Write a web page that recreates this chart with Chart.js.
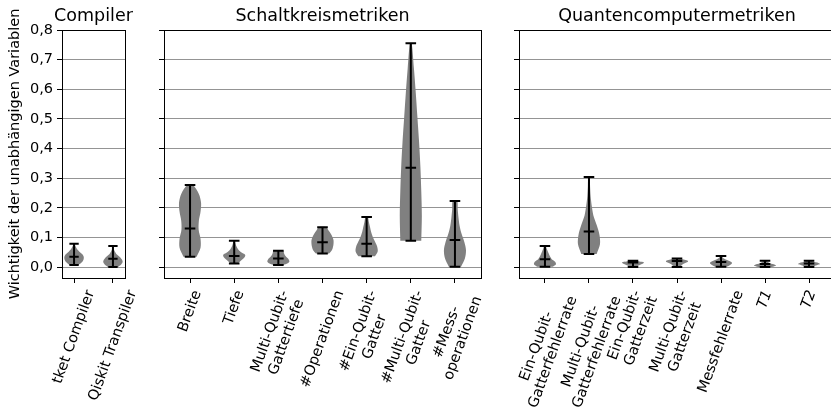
<!DOCTYPE html>
<html>
<head>
<meta charset="utf-8">
<script src="https://cdn.jsdelivr.net/npm/chart.js@4.4.1/dist/chart.umd.min.js"></script>
<style>
    html, body { margin: 0; padding: 0; background: #fff; overflow: hidden; }
    body { width: 831px; height: 414px; position: relative; }
    canvas { position: absolute; top: 0; }
</style>
</head>
<body>
<canvas id="compilerChart" width="160" height="414" style="left:0px"></canvas>
<canvas id="circuitChart" width="362" height="414" style="left:124px"></canvas>
<canvas id="qcChart" width="360" height="414" style="left:479px"></canvas>
<script>
// y axis ticks shared by all three panels
const yTicks = [0, 0.1, 0.2, 0.3, 0.4, 0.5, 0.6, 0.7, 0.8];

// Compiler
const compilerLabels = [['tket Compiler'], ['Qiskit Transpiler']];
const compilerMin = [0.007, 0.000];
const compilerMedian = [0.035, 0.028];
const compilerMax = [0.079, 0.071];
// relative violin width, from min (first) to max (last)
const compilerShape = [
    [0.45, 0.8, 0.97, 1.0, 0.85, 0.55, 0.3, 0.15, 0.05],
    [0.5, 0.85, 1.0, 0.9, 0.65, 0.35, 0.18, 0.08, 0.03]
];

// Schaltkreismetriken
const circuitLabels = [['Breite'], ['Tiefe'], ['Multi-Qubit-', 'Gattertiefe'], ['#Operationen'],
    ['#Ein-Qubit-', 'Gatter'], ['#Multi-Qubit-', 'Gatter'], ['#Mess-', 'operationen']];
const circuitMin = [0.035, 0.012, 0.007, 0.046, 0.036, 0.089, 0.001];
const circuitMedian = [0.130, 0.037, 0.029, 0.084, 0.079, 0.335, 0.091];
const circuitMax = [0.277, 0.089, 0.055, 0.134, 0.169, 0.755, 0.223];
const circuitShape = [
    [0.6, 0.95, 0.95, 0.78, 0.8, 0.95, 1.0, 0.8, 0.25],
    [0.3, 0.6, 0.9, 1.0, 0.6, 0.35, 0.2, 0.12, 0.05],
    [0.45, 0.85, 1.0, 0.95, 0.8, 0.65, 0.55, 0.5, 0.45],
    [0.6, 0.85, 0.95, 1.0, 1.0, 0.9, 0.75, 0.55, 0.35],
    [0.75, 1.0, 0.95, 0.75, 0.55, 0.4, 0.3, 0.2, 0.1],
    [0.95, 1.0, 0.95, 0.87, 0.75, 0.6, 0.45, 0.28, 0.08],
    [0.55, 0.9, 1.0, 0.85, 0.6, 0.42, 0.32, 0.25, 0.2]
];

// Quantencomputermetriken
const qcLabels = [['Ein-Qubit-', 'Gatterfehlerrate'], ['Multi-Qubit-', 'Gatterfehlerrate'],
    ['Ein-Qubit-', 'Gatterzeit'], ['Multi-Qubit-', 'Gatterzeit'], ['Messfehlerrate'], ['T1'], ['T2']];
const qcLabelStyle = ['normal', 'normal', 'normal', 'normal', 'normal', 'italic', 'italic'];
const qcMin = [0.001, 0.044, 0.000, 0.000, 0.001, 0.000, 0.000];
const qcMedian = [0.026, 0.120, 0.015, 0.020, 0.017, 0.010, 0.012];
const qcMax = [0.071, 0.304, 0.021, 0.029, 0.037, 0.021, 0.021];
const qcShape = [
    [0.7, 1.0, 0.9, 0.6, 0.45, 0.35, 0.25, 0.15, 0.08],
    [0.7, 1.0, 0.95, 0.7, 0.4, 0.25, 0.15, 0.1, 0.06],
    [0.2, 0.35, 0.5, 0.65, 0.8, 0.95, 1.0, 0.6, 0.2],
    [0.25, 0.35, 0.45, 0.6, 0.8, 1.0, 0.95, 0.6, 0.25],
    [0.5, 0.75, 0.95, 1.0, 0.85, 0.55, 0.3, 0.15, 0.06],
    [0.6, 0.85, 1.0, 0.9, 0.7, 0.45, 0.3, 0.2, 0.1],
    [0.3, 0.45, 0.6, 0.8, 1.0, 0.9, 0.6, 0.35, 0.15]
];

const HALF_WIDTH = 0.25;
const CAP = 0.12;

Chart.defaults.font.family = '"DejaVu Sans", sans-serif';
Chart.defaults.color = '#000';

// Outline of one violin: right side bottom->top, then left side top->bottom
function violinPoints(i, lo, hi, shape) {
    const n = shape.length;
    const right = shape.map((w, k) => ({ x: i + w * HALF_WIDTH, y: lo + (hi - lo) * k / (n - 1) }));
    const left = right.slice().reverse().map(p => ({ x: 2 * i - p.x, y: p.y }));
    return right.concat(left);
}

// Vertical range line, caps and median, separated by gaps
function whiskerPoints(mins, medians, maxs) {
    const pts = [];
    mins.forEach((lo, i) => {
        const hi = maxs[i];
        const md = medians[i];
        pts.push({ x: i, y: lo }, { x: i, y: hi }, { x: i, y: null });
        pts.push({ x: i - CAP, y: hi }, { x: i + CAP, y: hi }, { x: i, y: null });
        pts.push({ x: i - CAP, y: lo }, { x: i + CAP, y: lo }, { x: i, y: null });
        pts.push({ x: i - CAP, y: md }, { x: i + CAP, y: md }, { x: i, y: null });
    });
    return pts;
}

// Category labels like matplotlib: rotated 70 degrees, centred on the tick
const rotatedLabels = {
    id: 'rotatedLabels',
    afterDraw(chart, args, opts) {
        const scale = chart.scales.x;
        const ctx = chart.ctx;
        const size = 14.5;
        const lh = size * 1.2;
        const rad = 70 * Math.PI / 180;
        opts.labels.forEach((lines, i) => {
            const style = opts.styles ? opts.styles[i] : 'normal';
            ctx.save();
            ctx.font = style + ' ' + size + 'px "DejaVu Sans"';
            const w = Math.max(...lines.map(l => ctx.measureText(l).width));
            const h = lines.length * lh;
            const boxH = w * Math.sin(rad) + h * Math.cos(rad);
            ctx.translate(scale.getPixelForValue(i), chart.chartArea.bottom + opts.offset + boxH / 2);
            ctx.rotate(-rad);
            ctx.textAlign = 'center';
            ctx.textBaseline = 'middle';
            ctx.fillStyle = '#000';
            lines.forEach((l, j) => ctx.fillText(l, 0, (j - (lines.length - 1) / 2) * lh));
            ctx.restore();
        });
    }
};

// Panel title centred over the plot area (may be wider than it)
const panelTitle = {
    id: 'panelTitle',
    afterDraw(chart, args, opts) {
        const { left, right, top } = chart.chartArea;
        const ctx = chart.ctx;
        ctx.save();
        ctx.font = '17.5px "DejaVu Sans"';
        ctx.fillStyle = '#000';
        ctx.textAlign = 'center';
        ctx.textBaseline = 'middle';
        ctx.fillText(opts.text, (left + right) / 2, top - 13.5);
        ctx.restore();
    }
};

// Black box round the plot area
const frame = {
    id: 'frame',
    afterDraw(chart) {
        const { left, top, right, bottom } = chart.chartArea;
        const ctx = chart.ctx;
        ctx.save();
        ctx.strokeStyle = '#000';
        ctx.lineWidth = 1;
        ctx.strokeRect(Math.round(left) + 0.5, Math.round(top) + 0.5,
            Math.round(right - left), Math.round(bottom - top));
        ctx.restore();
    }
};

function createPanel(id, title, labels, mins, medians, maxs, shapes, cfg) {
    const datasets = [{
        data: whiskerPoints(mins, medians, maxs),
        showLine: true,
        spanGaps: false,
        borderColor: '#000',
        borderWidth: 2,
        pointRadius: 0,
        fill: false
    }];
    shapes.forEach((shape, i) => {
        datasets.push({
            data: violinPoints(i, mins[i], maxs[i], shape),
            showLine: true,
            borderWidth: 0,
            borderColor: 'rgba(0,0,0,0)',
            backgroundColor: '#808080',
            pointRadius: 0,
            tension: 0.3,
            fill: 'shape'
        });
    });

    new Chart(document.getElementById(id), {
        type: 'scatter',
        data: { datasets: datasets },
        options: {
            responsive: false,
            animation: false,
            devicePixelRatio: 1,
            layout: { padding: { left: 0, right: cfg.padRight, top: 30, bottom: 0 } },
            scales: {
                x: {
                    type: 'linear',
                    min: cfg.xMin,
                    max: cfg.xMax,
                    afterBuildTicks: s => { s.ticks = labels.map((_, i) => ({ value: i })); },
                    afterFit: s => { s.height = 136; },
                    grid: { drawOnChartArea: false, tickColor: '#000', tickLength: 5 },
                    border: { display: false },
                    ticks: { display: false }
                },
                y: {
                    min: -0.037,
                    max: 0.8,
                    afterBuildTicks: s => { s.ticks = yTicks.map(v => ({ value: v })); },
                    afterFit: s => { s.width = cfg.yWidth; },
                    grid: { color: 'rgba(0,0,0,0.42)', tickColor: '#000', tickLength: 5, lineWidth: 1 },
                    border: { display: false },
                    ticks: {
                        display: cfg.showY,
                        padding: 4,
                        font: { size: 14.5 },
                        color: '#000',
                        callback: v => v.toFixed(1).replace('.', ',')
                    },
                    title: {
                        display: cfg.showY,
                        text: 'Wichtigkeit der unabhängigen Variablen',
                        font: { size: 14.5 },
                        color: '#000',
                        padding: { top: 7, bottom: 1 }
                    }
                }
            },
            plugins: {
                legend: { display: false },
                tooltip: { enabled: false },
                title: { display: false },
                panelTitle: { text: title },
                rotatedLabels: { labels: labels, styles: cfg.styles, offset: 10 }
            }
        },
        plugins: [rotatedLabels, panelTitle, frame]
    });
}

createPanel('compilerChart', 'Compiler', compilerLabels, compilerMin, compilerMedian, compilerMax,
    compilerShape, { xMin: -0.31, xMax: 1.31, yWidth: 62, padRight: 35, showY: true });
createPanel('circuitChart', 'Schaltkreismetriken', circuitLabels, circuitMin, circuitMedian, circuitMax,
    circuitShape, { xMin: -0.59, xMax: 6.59, yWidth: 40, padRight: 5, showY: false });
createPanel('qcChart', 'Quantencomputermetriken', qcLabels, qcMin, qcMedian, qcMax,
    qcShape, { xMin: -0.59, xMax: 6.59, yWidth: 40, padRight: 4, showY: false, styles: qcLabelStyle });
</script>
</body>
</html>
